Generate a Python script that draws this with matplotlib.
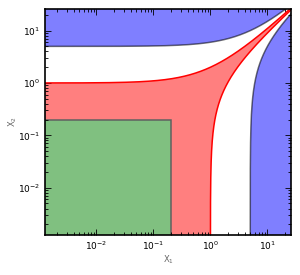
import numpy as np
import matplotlib
matplotlib.use("Agg")
import matplotlib.pyplot as plt

# regions: |x1 - x2| < gap, plus a small square near the origin
red_gap = 1.0
blue_gap = 5.0
green_side = 0.2
lims = (1.25e-3, 26)

plt.rcParams['font.size'] = 6.5
plt.rcParams['mathtext.default'] = 'regular'

fig = plt.figure(figsize=(3, 2.75), dpi=100)
ax = fig.add_axes([0.15, 0.1455, 0.82, 0.822])

t = np.logspace(-6, np.log10(40), 800)
lo, hi = 1e-6, 1e3

# blue: |x1 - x2| > 5
ax.fill(np.r_[t, 40, lo], np.r_[t + blue_gap, hi, hi], color='blue', alpha=0.5, lw=0)
ax.fill(np.r_[t + blue_gap, hi, hi], np.r_[t, 40, lo], color='blue', alpha=0.5, lw=0)
ax.plot(t, t + blue_gap, color='k', alpha=0.55, lw=1.1)
ax.plot(t + blue_gap, t, color='k', alpha=0.55, lw=1.1)

# red: |x1 - x2| < 1
xr = np.r_[t + red_gap, t[::-1], lo]
yr = np.r_[t, t[::-1] + red_gap, lo]
ax.fill(xr, yr, color='red', alpha=0.5, lw=0)
ax.plot(t, t + red_gap, color='red', lw=1.1)
ax.plot(t + red_gap, t, color='red', lw=1.1)

# green square
ax.fill([lo, green_side, green_side, lo], [lo, lo, green_side, green_side],
        facecolor='#80c080', edgecolor='#606060', lw=1.1)

ax.set_xscale('log')
ax.set_yscale('log')
ax.set_xlim(*lims)
ax.set_ylim(*lims)
ax.tick_params(which='both', direction='in', top=True, right=True, width=0.6)
ax.tick_params(which='major', length=4)
ax.tick_params(which='minor', length=2)
for s in ax.spines.values():
    s.set_linewidth(1.2)
ax.set_xlabel('$X_1$', color='0.4', fontsize=6, labelpad=1)
ax.set_ylabel('$X_2$', color='0.4', fontsize=6, labelpad=-1)

fig.savefig('out.png', dpi=100)
